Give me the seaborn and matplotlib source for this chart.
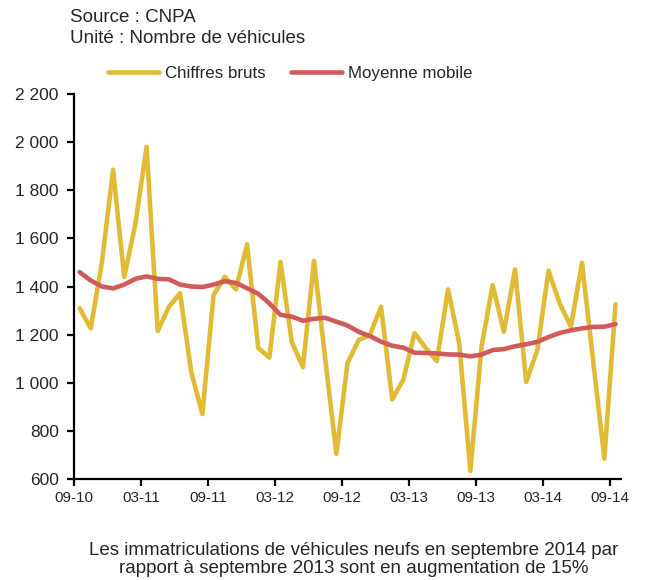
import numpy as np
import pandas as pd
import matplotlib
matplotlib.use("Agg")
import matplotlib.pyplot as plt
import seaborn as sns
from matplotlib.ticker import FuncFormatter

# monthly data, 09-10 .. 09-14
months = pd.date_range("2010-09-01", "2014-09-01", freq="MS")

# Chiffres bruts
raw = [1310, 1226, 1500, 1885, 1440, 1660, 1980, 1215, 1316, 1372,
       1045, 870, 1365, 1440, 1388, 1575, 1145, 1105, 1502, 1170,
       1065, 1507, 1100, 705, 1082, 1178, 1198, 1316, 931, 1014,
       1206, 1145, 1090, 1388, 1165, 634, 1150, 1406, 1212, 1471,
       1004, 1136, 1466, 1330, 1233, 1498, 1090, 685, 1326]

# Moyenne mobile
avg = [1460, 1425, 1400, 1392, 1408, 1432, 1442, 1432, 1430, 1408,
       1400, 1398, 1408, 1422, 1415, 1393, 1370, 1330, 1282, 1275,
       1258, 1266, 1270, 1254, 1238, 1212, 1194, 1171, 1154, 1146,
       1125, 1124, 1122, 1118, 1117, 1110, 1117, 1136, 1140, 1152,
       1160, 1170, 1190, 1207, 1218, 1226, 1232, 1233, 1244]

xtick_labels = ["09-10", "03-11", "09-11", "03-12", "09-12",
                "03-13", "09-13", "03-14", "09-14"]
yticks = [600, 800, 1000, 1200, 1400, 1600, 1800, 2000, 2200]

YELLOW = "#E2BB36"
RED = "#CF5B5B"

sns.set_style("white")
plt.rcParams['font.family'] = ['Liberation Sans', 'DejaVu Sans']

df = pd.DataFrame({"mois": months, "brut": raw, "moy": avg})
# points sit in the middle of each month slot
df["x"] = np.arange(len(df)) + 0.5

fig = plt.figure(figsize=(6.49, 5.80), dpi=100)
ax = fig.add_axes([0.114, 0.174, 0.843, 0.664])

sns.lineplot(data=df, x="x", y="brut", ax=ax, color=YELLOW, linewidth=3.3,
             label="Chiffres bruts", solid_capstyle="round", solid_joinstyle="round")
sns.lineplot(data=df, x="x", y="moy", ax=ax, color=RED, linewidth=3.3,
             label="Moyenne mobile", solid_capstyle="round", solid_joinstyle="round")

ax.set_xlim(0, len(df))
ax.set_ylim(600, 2200)
ax.set_xticks(np.arange(0, len(df), 6))
ax.set_xticklabels(xtick_labels)
ax.set_yticks(yticks)
ax.yaxis.set_major_formatter(FuncFormatter(lambda v, p: f"{int(v):,}".replace(",", " ")))
ax.set_xlabel("")
ax.set_ylabel("")

for s in ["top", "right"]:
    ax.spines[s].set_visible(False)
for s in ["left", "bottom"]:
    ax.spines[s].set_color("black")
    ax.spines[s].set_linewidth(1.6)
ax.tick_params(axis="both", which="both", direction="out", length=5, width=1.6,
               color="black", labelsize=11, left=True, bottom=True)
ax.tick_params(axis="y", labelsize=12.5, pad=6)

leg = ax.legend(loc="lower left", bbox_to_anchor=(0.035, 0.995), ncol=2, frameon=False,
                fontsize=12.2, handlelength=3.0, handletextpad=0.35, columnspacing=1.5)

fig.text(0.108, 0.97, "Source : CNPA", fontsize=13.5, va="center")
fig.text(0.108, 0.933, "Unité : Nombre de véhicules", fontsize=13.5, va="center")

fig.text(0.545, 0.035, "Les immatriculations de véhicules neufs en septembre 2014 par\n"
         "rapport à septembre 2013 sont en augmentation de 15%",
         fontsize=13.5, ha="center", va="center", linespacing=1.05)

fig.savefig("out.png", dpi=100)
